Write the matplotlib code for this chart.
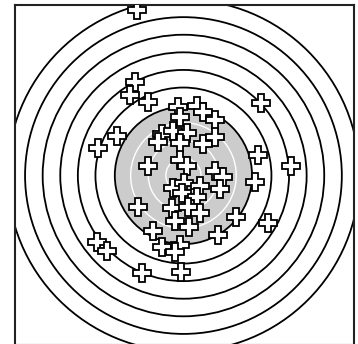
import numpy as np
import matplotlib
matplotlib.use('Agg')
import matplotlib.pyplot as plt
from matplotlib.patches import Circle

# shot positions (target units, ring spacing = 1)
shot_x = [-2.64, -2.76, -3.04, -2.02, -3.78, -4.86, 4.40, 4.23, 6.11, 4.06,
          4.80, 2.98, 1.96, -4.91, -4.35, -2.36, -0.14, -2.02, -2.59,
          -0.31, 0.77, 1.11, 1.79, -0.20, -1.22, -0.60, 0.20, -1.45, -0.20,
          1.11, 1.79, -0.20, 0.20, 1.79, 2.24, 2.07, -0.60, 0.03, 0.94,
          -0.09, 0.77, -0.65, 0.26, 0.94, -0.48, 0.31, -1.73, -1.22, -0.20, -0.48]
shot_y = [9.40, 5.31, 4.57, 4.18, 2.24, 1.56, 4.12, 1.16, 0.54, -0.37,
          -2.70, -2.36, -3.38, -3.78, -4.29, -5.54, -5.48, 0.54, -1.79,
          3.89, 3.95, 3.61, 3.15, 3.32, 2.36, 2.53, 2.41, 1.90, 1.85,
          1.79, 2.19, 0.88, 0.54, 0.26, -0.09, -0.77, -0.71, -0.43, -0.60,
          -0.99, -1.22, -1.85, -1.79, -2.13, -2.59, -2.93, -3.15, -4.06, -3.95, -4.35]

black_rings = [5, 6, 7, 8, 9, 10]
white_rings = [1, 2, 3]
bull_radius = 3.9

fig = plt.figure(figsize=(3.58, 3.44), dpi=100)
ax = fig.add_axes([15 / 358, -1 / 344, 339 / 358, 340 / 344])

ax.add_patch(Circle((0, 0), bull_radius, facecolor='#cccccc', edgecolor='black', lw=1.3, zorder=1))
for r in white_rings:
    ax.add_patch(Circle((0, 0), r, fill=False, edgecolor='white', lw=1.0, zorder=1))
for r in black_rings:
    ax.add_patch(Circle((0, 0), r, fill=False, edgecolor='black', lw=1.3, zorder=1))

ax.plot(shot_x, shot_y, 'P', ms=13, mfc='white', mec='black', mew=1.3, ls='none', zorder=3)

ax.set_xlim(-9.57, 9.69)
ax.set_ylim(-9.63, 9.69)
ax.set_aspect('equal')
ax.set_xticks([])
ax.set_yticks([])
for s in ax.spines.values():
    s.set_linewidth(1.5)
    s.set_color('#222222')

fig.savefig('out.png', dpi=100)
